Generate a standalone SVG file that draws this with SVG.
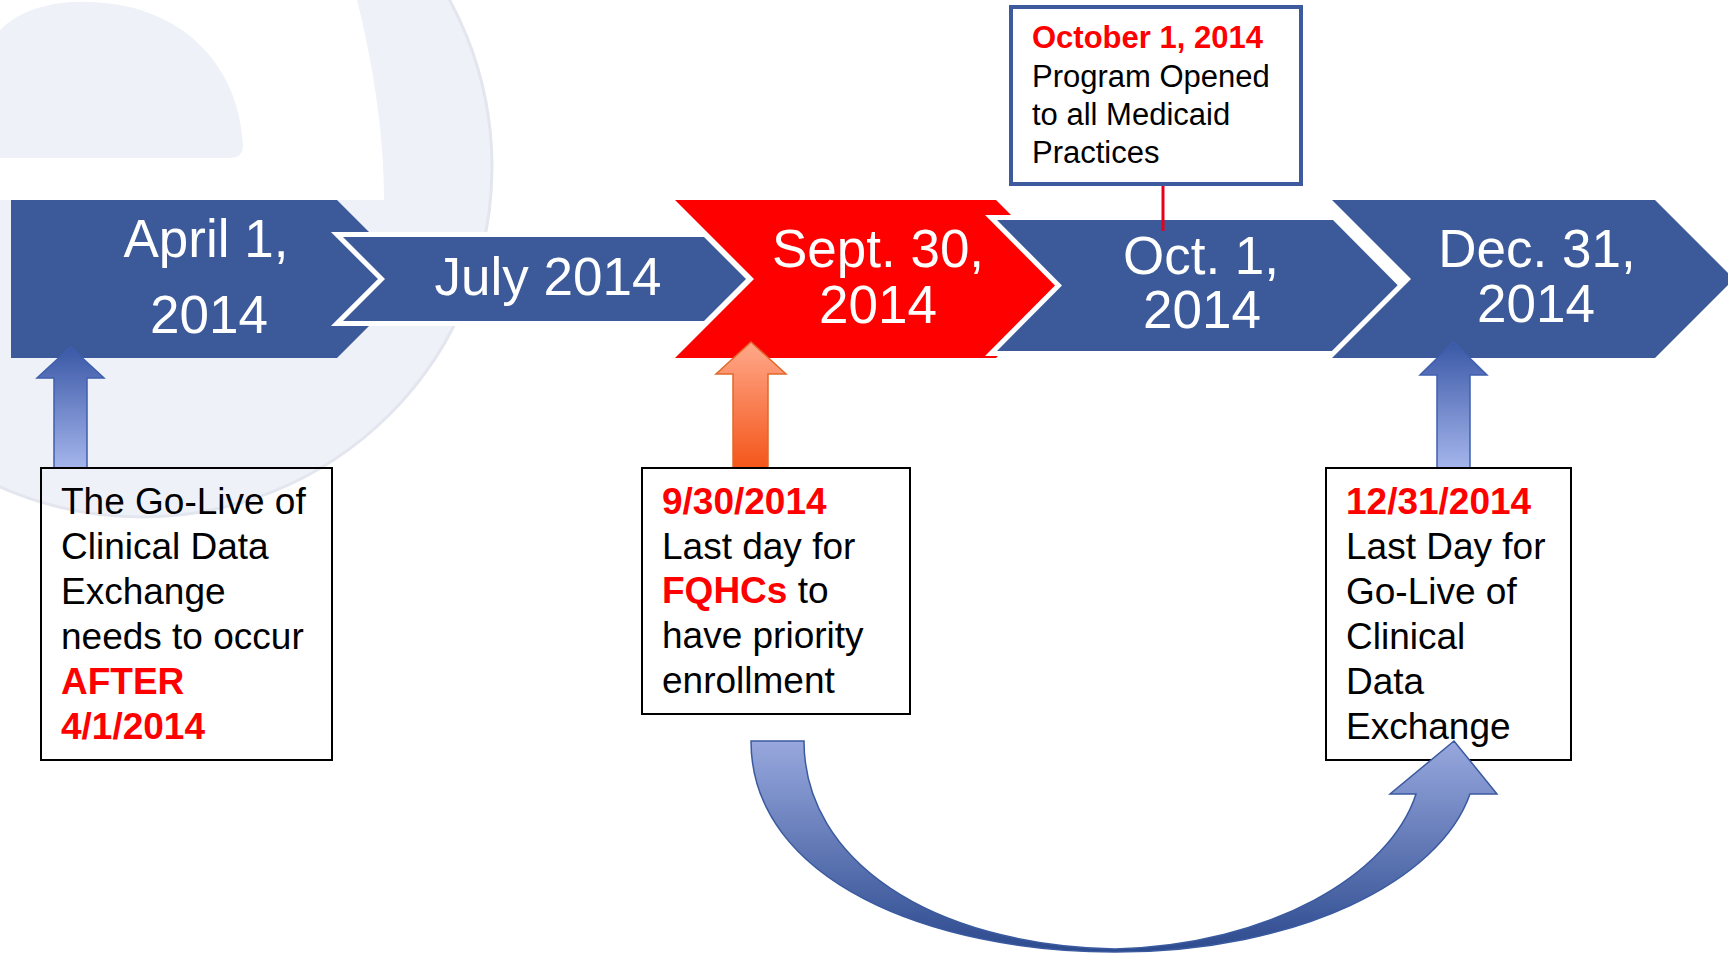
<svg xmlns="http://www.w3.org/2000/svg" width="1728" height="954" viewBox="0 0 1728 954">
  <defs>
    <style>
      .chev { fill: #3c5a99; }
      .outl { stroke: #ffffff; stroke-width: 10; paint-order: stroke fill; stroke-linejoin: miter; }
      .big { font-family: "Liberation Sans", Arial, sans-serif; font-size: 53px; fill: #ffffff; text-anchor: middle; }
      .note { font-family: "Liberation Sans", Arial, sans-serif; font-size: 37px; fill: #000000; }
      .call { font-family: "Liberation Sans", Arial, sans-serif; font-size: 31px; fill: #000000; }
      .hl { fill: #ff0000; font-weight: bold; }
      .box { fill: none; stroke: #000000; stroke-width: 2; }
    </style>
    <linearGradient id="gBlueUp" x1="0" y1="0" x2="0" y2="1">
      <stop offset="0" stop-color="#3a58a6"/>
      <stop offset="1" stop-color="#a5b5ec"/>
    </linearGradient>
    <linearGradient id="gOrangeUp" x1="0" y1="0" x2="0" y2="1">
      <stop offset="0" stop-color="#ffa88a"/>
      <stop offset="1" stop-color="#f4561a"/>
    </linearGradient>
    <linearGradient id="gCurve" gradientUnits="userSpaceOnUse" x1="0" y1="741" x2="0" y2="952">
      <stop offset="0" stop-color="#98a8de"/>
      <stop offset="1" stop-color="#2c4a8e"/>
    </linearGradient>
  </defs>

  <rect x="0" y="0" width="1728" height="954" fill="#ffffff"/>

  <!-- watermark -->
  <g id="watermark">
    <circle cx="142" cy="167" r="350" fill="#eef1f7" stroke="#e3e6ee" stroke-width="3"/>
    <path d="M0,0 L357,0 C372,60 384,130 384,200 L0,200 L0,158 L230,158 Q243,158 243,145 C240,80 200,20 120,5 C80,-2 30,0 0,30 Z" fill="#ffffff"/>
  </g>

  <!-- timeline chevrons -->
  <g id="april">
    <polygon class="chev" points="11,200 337,200 416,279 337,358 11,358"/>
    <text class="big" x="206" y="257">April 1,</text>
    <text class="big" x="209" y="333">2014</text>
  </g>
  <g id="sept">
    <polygon fill="#ff0000" points="675,200 996,200 1075,279 996,358 675,358 754,279"/>
    <text class="big" x="878" y="267">Sept. 30,</text>
    <text class="big" x="878" y="323">2014</text>
  </g>
  <g id="july">
    <polygon class="chev outl" points="343,237 704,237 746,279 704,321 343,321 385,279"/>
    <text class="big" x="548" y="295">July 2014</text>
  </g>
  <g id="oct">
    <polygon class="chev outl" points="997,220 1333,220 1398,285.5 1333,351 997,351 1062,285.5"/>
    <text class="big" x="1201" y="274">Oct. 1,</text>
    <text class="big" x="1202" y="328">2014</text>
  </g>
  <g id="dec">
    <polygon class="chev outl" points="1332,200 1655,200 1734,279 1655,358 1332,358 1411,279"/>
    <text class="big" x="1537" y="267">Dec. 31,</text>
    <text class="big" x="1536" y="322">2014</text>
  </g>

  <!-- connectors -->
  <g id="connectors">
    <line x1="1163" y1="184" x2="1163" y2="231" stroke="#e8001a" stroke-width="3"/>
    <polygon points="70.5,347 104,378 87,378 87,468 54,468 54,378 37,378" fill="url(#gBlueUp)" stroke="#3f5faf" stroke-width="1.5"/>
    <polygon points="751,342 786,374 768,374 768,468 733,468 733,374 716,374" fill="url(#gOrangeUp)" stroke="#e0682a" stroke-width="1.5"/>
    <polygon points="1453.5,342 1487,375 1470,375 1470,468 1437,468 1437,375 1420,375" fill="url(#gBlueUp)" stroke="#3f5faf" stroke-width="1.5"/>
  </g>

  <!-- callout top -->
  <g id="callout-oct">
    <rect x="1011" y="7" width="290" height="177" fill="#ffffff" stroke="#3d5a9e" stroke-width="4"/>
    <text class="call" x="1032" y="48"><tspan class="hl">October 1, 2014</tspan></text>
    <text class="call" x="1032" y="87">Program Opened</text>
    <text class="call" x="1032" y="125">to all Medicaid</text>
    <text class="call" x="1032" y="163">Practices</text>
  </g>

  <!-- notes -->
  <g id="note-april">
    <rect class="box" x="41" y="468" width="291" height="292"/>
    <text class="note" x="61" y="514">The Go-Live of</text>
    <text class="note" x="61" y="559">Clinical Data</text>
    <text class="note" x="61" y="604">Exchange</text>
    <text class="note" x="61" y="649">needs to occur</text>
    <text class="note hl" x="61" y="694">AFTER</text>
    <text class="note hl" x="61" y="739">4/1/2014</text>
  </g>
  <g id="note-sept">
    <rect class="box" x="642" y="468" width="268" height="246" fill="#ffffff"/>
    <text class="note hl" x="662" y="514">9/30/2014</text>
    <text class="note" x="662" y="559">Last day for</text>
    <text class="note" x="662" y="603"><tspan class="hl">FQHCs</tspan> to</text>
    <text class="note" x="662" y="648">have priority</text>
    <text class="note" x="662" y="693">enrollment</text>
  </g>
  <g id="note-dec">
    <rect class="box" x="1326" y="468" width="245" height="292"/>
    <text class="note hl" x="1346" y="514">12/31/2014</text>
    <text class="note" x="1346" y="559">Last Day for</text>
    <text class="note" x="1346" y="604">Go-Live of</text>
    <text class="note" x="1346" y="649">Clinical</text>
    <text class="note" x="1346" y="694">Data</text>
    <text class="note" x="1346" y="739">Exchange</text>
  </g>

  <!-- curved arrow -->
  <g id="curved-arrow">
    <path d="M751,741 L804,741 C804,860 930,945 1115,949 C1270,945 1390,875 1416,794 L1390,794 L1454,741 L1497,794 L1470,794 C1440,880 1300,952 1115,952 C930,952 751,880 751,741 Z" fill="url(#gCurve)" stroke="#3a5aa0" stroke-width="1.5"/>
  </g>
</svg>
